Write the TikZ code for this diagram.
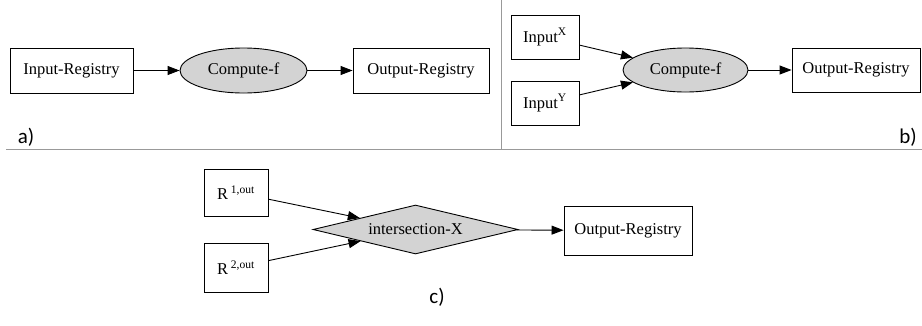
\documentclass[tikz,border=0pt]{standalone}
\usepackage{fontspec}
\setmainfont{Liberation Serif}
\newfontfamily\tagfont{Carlito}
\usepackage{tikz}
\usetikzlibrary{positioning, arrows.meta, shapes.geometric}

\definecolor{nodegray}{RGB}{211,211,211}

\begin{document}
\begin{tikzpicture}[
    x=1pt, y=-1pt,
    % Style for the registry boxes
    reg/.style = {draw, rectangle, line width=0.9pt, inner sep=0pt, minimum height=45pt,
                  font=\fontsize{16.5}{18}\selectfont},
    % Style for the compute step (grey ellipse)
    op/.style = {draw, ellipse, fill=nodegray, line width=0.9pt, inner sep=0pt,
                 minimum width=127pt, minimum height=45pt, font=\fontsize{16.5}{18}\selectfont},
    % Style for the intersection step (grey diamond)
    sel/.style = {draw, diamond, fill=nodegray, line width=0.9pt, inner sep=0pt, aspect=4.2,
                  minimum width=205pt, minimum height=49pt, font=\fontsize{16.5}{18}\selectfont},
    % Style for the arrows: filled triangle tips
    arrow/.style = {-{Triangle[length=12pt, width=9pt]}, line width=0.9pt},
    % Style for the panel letters
    tag/.style = {inner sep=0pt, font=\tagfont\fontsize{21}{24}\selectfont},
    sep/.style = {draw=gray!80, line width=1pt}
]
    \useasboundingbox (0,0) rectangle (922,325);

    % --- PANEL a) ---
    \node[reg, minimum width=123pt] (InReg) at (71.5, 70.5) {Input-Registry};
    \node[op] (ComputeA) at (243.5, 70.5) {Compute-f};
    \node[reg, minimum width=136pt] (OutRegA) at (421, 70.5) {Output-Registry};
    \node[tag] (TagA) at (26, 137) {a)};

    \draw[arrow] (InReg) -- (ComputeA);
    \draw[arrow] (ComputeA) -- (OutRegA);

    % --- PANEL b) ---
    \node[reg, minimum width=68pt, minimum height=44pt] (InX) at (545, 37) {Input\textsuperscript{X}};
    \node[reg, minimum width=68pt, minimum height=44pt] (InY) at (545, 103) {Input\textsuperscript{Y}};
    \node[op, minimum width=125pt, minimum height=44pt] (ComputeB) at (685.5, 70) {Compute-f};
    \node[reg, minimum width=128pt, minimum height=44pt] (OutRegB) at (856, 70) {Output-Registry};
    \node[tag] (TagB) at (908, 137) {b)};

    \draw[arrow] (InX) -- (ComputeB);
    \draw[arrow] (InY) -- (ComputeB);
    \draw[arrow] (ComputeB) -- (OutRegB);

    % --- PANEL c) ---
    \node[reg, minimum width=64pt, minimum height=47pt] (R1) at (236, 192.5) {R\,\textsuperscript{1,out}};
    \node[reg, minimum width=64pt, minimum height=49pt] (R2) at (236, 267.5) {R\,\textsuperscript{2,out}};
    \node[sel] (Inter) at (415.5, 229.5) {intersection-X};
    \node[reg, minimum width=128pt, minimum height=49pt] (OutRegC) at (628, 230.5) {Output-Registry};
    \node[tag] (TagC) at (437, 297) {c)};

    \draw[arrow] (R1) -- (Inter);
    \draw[arrow] (R2) -- (Inter);
    \draw[arrow] (Inter) -- (OutRegC);

    % --- SEPARATORS ---
    \coordinate (HL) at (6, 149);
    \coordinate (HR) at (922, 149);
    \coordinate (VT) at (501, 0);
    \coordinate (VB) at (501, 149);
    \draw[sep] (HL) -- (HR);
    \draw[sep] (VT) -- (VB);

\end{tikzpicture}
\end{document}
